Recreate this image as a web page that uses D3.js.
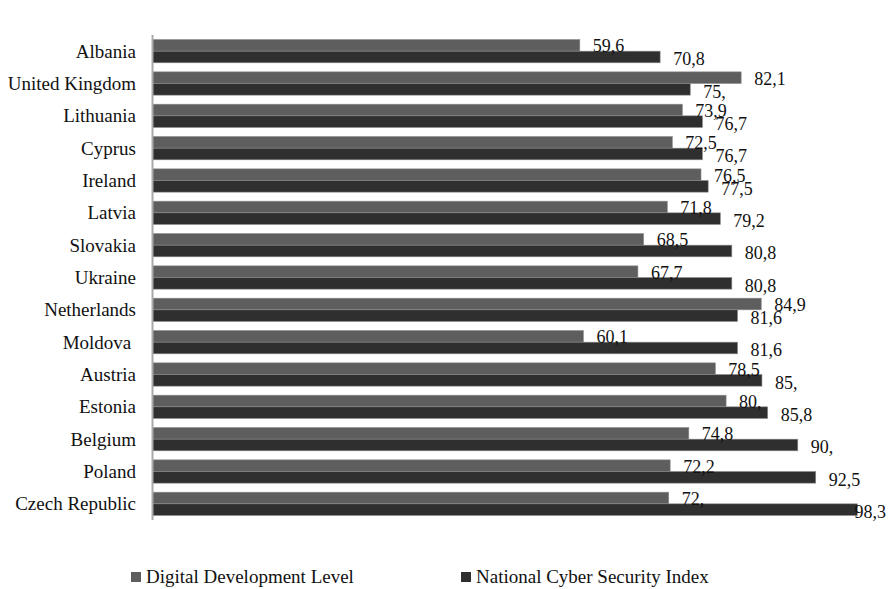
<!DOCTYPE html>
<html>
<head>
<meta charset="utf-8">
<script src="https://cdn.jsdelivr.net/npm/d3@7"></script>
<style>
  html, body { margin: 0; padding: 0; background: #fff; }
  svg { display: block; }
</style>
</head>
<body>
<svg id="chart" width="888" height="589"></svg>
<script>
// Countries, top to bottom
const countries = [
  "Albania", "United Kingdom", "Lithuania", "Cyprus", "Ireland", "Latvia",
  "Slovakia", "Ukraine", "Netherlands", "Moldova ", "Austria", "Estonia",
  "Belgium", "Poland", "Czech Republic"
];
// Digital Development Level
const digitalLevel = [59.6, 82.1, 73.9, 72.5, 76.5, 71.8, 68.5, 67.7, 84.9, 60.1, 78.5, 80, 74.8, 72.2, 72];
// National Cyber Security Index
const cyberIndex = [70.8, 75, 76.7, 76.7, 77.5, 79.2, 80.8, 80.8, 81.6, 81.6, 85, 85.8, 90, 92.5, 98.3];

const seriesNames = ["Digital Development Level", "National Cyber Security Index"];
const seriesColors = ["#5e5e5e", "#2f2f2f"];

const FONT = "Liberation Serif";
const W = 888, H = 589;
const svg = d3.select("#chart");

const x = d3.scaleLinear().domain([0, 100]).range([152.5, 869.5]);
const y = d3.scaleBand().domain(countries).range([35, 520]).paddingInner(0.28).paddingOuter(0.14);
const sub = d3.scaleBand().domain([0, 1]).range([0, y.bandwidth()]);

// Decimal comma; whole numbers keep a trailing comma
const fmt = v => Number.isInteger(v) ? v + "," : String(v).replace(".", ",");

const rows = countries.map((c, i) => ({ c, vals: [digitalLevel[i], cyberIndex[i]] }));

const g = svg.append("g");

// Bars
rows.forEach(r => {
  r.vals.forEach((v, s) => {
    g.append("rect")
      .attr("x", x(0))
      .attr("y", y(r.c) + sub(s))
      .attr("width", x(v) - x(0))
      .attr("height", sub.bandwidth())
      .attr("fill", seriesColors[s])
      .attr("stroke", "#8c8c8c")
      .attr("stroke-width", 0.6);
  });
});

// Value labels
rows.forEach(r => {
  r.vals.forEach((v, s) => {
    const t = g.append("text")
      .attr("font-family", FONT)
      .attr("font-size", 18)
      .attr("fill", "#111")
      .attr("y", y(r.c) + sub(s) + sub.bandwidth() + (s === 0 ? 1 : 2.5))
      .text(fmt(v));
    const w = t.node().getComputedTextLength();
    const xp = Math.min(x(v) + 13, W - 2 - w);
    t.attr("x", xp);
  });
});

// Category axis (vertical line + labels)
g.append("line")
  .attr("x1", 152.5).attr("x2", 152.5)
  .attr("y1", 35).attr("y2", 520)
  .attr("stroke", "#a9a9a9").attr("stroke-width", 2);

g.selectAll("text.cat").data(countries).join("text")
  .attr("class", "cat")
  .attr("font-family", FONT)
  .attr("font-size", 19)
  .attr("fill", "#111")
  .attr("x", 136)
  .attr("y", d => y(d) + y.bandwidth() / 2 + 6.5)
  .attr("text-anchor", "end")
  .style("white-space", "pre")
  .text(d => d);

// Legend
const legendX = [131, 461];
seriesNames.forEach((name, i) => {
  svg.append("rect")
    .attr("x", legendX[i]).attr("y", 572)
    .attr("width", 10).attr("height", 10)
    .attr("fill", seriesColors[i]);
  svg.append("text")
    .attr("font-family", FONT)
    .attr("font-size", 19)
    .attr("fill", "#111")
    .attr("x", legendX[i] + 15).attr("y", 583)
    .text(name);
});
</script>
</body>
</html>
